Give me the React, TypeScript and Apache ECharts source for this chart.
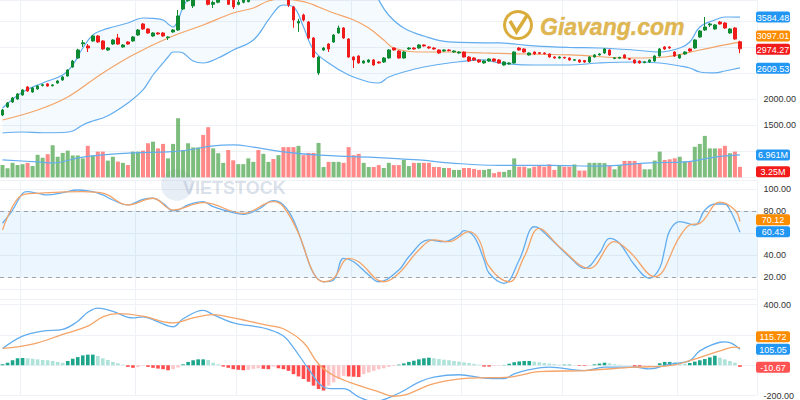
import React, { useEffect, useRef } from 'react';
import * as echarts from 'echarts';

const CATEGORY_COUNT = 151;
const categories = Array.from({ length: CATEGORY_COUNT }, (_, i) => `d${i}`);

// [open, close, low, high]
const candles: number[][] = [
  [1702,1798,1680,1820],[1856,1933,1840,1950],[1952,2029,1935,2045],[2010,2106,1995,2120],[2087,2183,2070,2200],
  [2240,2163,2150,2260],[2144,2221,2130,2240],[2202,2260,2190,2275],[2270,2285,2250,2300],[2300,2260,2245,2315],
  [2265,2280,2250,2295],[2317,2356,2300,2370],[2375,2433,2360,2450],[2452,2567,2440,2580],[2625,2740,2610,2760],
  [2798,2952,2780,2975],[3070,3090,3010,3144],[3029,2990,2913,3067],[3125,3221,3110,3240],[3221,3106,3090,3240],
  [3125,2971,2955,3140],[2952,2990,2933,3005],[3067,3144,3050,3160],[3183,3067,3050,3260],[3010,3048,2995,3065],
  [3106,3067,3055,3120],[3125,3202,3110,3220],[3240,3336,3225,3355],[3452,3356,3340,3470],[3356,3279,3265,3370],
  [3221,3279,3205,3295],[3279,3260,3245,3295],[3279,3221,3205,3295],[3190,3202,3144,3215],[3298,3336,3285,3350],
  [3336,3606,3320,3721],[3740,3960,3720,3990],
  [3900,3990,3880,4020],[3800,3960,3760,3990],[3960,4040,3940,4070],[4040,3980,3950,4060],[3980,3830,3810,4000],
  [3830,3865,3760,3900],[3870,3960,3850,3980],[3960,4030,3940,4060],[4030,3830,3820,4040],[3910,3780,3740,3930],
  [3830,3870,3810,3950],[3870,3940,3850,3970],[3880,3990,3870,4010],[3990,4040,3970,4070],[4040,3980,3950,4060],
  [3980,4050,3960,4080],[4050,4090,4020,4120],[4090,4010,3990,4110],[4010,4060,3990,4090],[4060,3960,3930,4080],
  [3960,3820,3780,3990],[3780,3529,3380,3800],[3470,3500,3300,3550],[3625,3529,3500,3650],[3490,3183,3160,3510],
  [3183,2817,2800,3200],[2510,2817,2470,2830],[2952,2990,2935,3010],[3067,2971,2913,3080],[3106,3240,3090,3255],
  [3279,3375,3265,3420],[3375,3183,3165,3390],[3163,2817,2800,3180],[2817,2760,2605,2830],[2836,2702,2690,2850],
  [2702,2740,2690,2755],[2721,2760,2705,2775],[2760,2663,2650,2775],[2721,2702,2690,2735],[2721,2798,2705,2815],
  [2798,2952,2785,2970],[2990,2952,2940,3005],[2933,2798,2785,2945],[2798,2913,2785,2930],[2971,2990,2955,3005],
  [2990,2971,2955,3005],[2990,3048,2975,3065],[3048,3029,3015,3060],[3010,2990,2975,3025],[2990,2971,2955,3005],
  [2952,2894,2880,2965],[2933,2952,2920,2965],[2952,2940,2925,2965],[2913,2933,2900,2945],[2894,2913,2880,2925],
  [2913,2817,2805,2925],[2817,2740,2720,2830],[2798,2760,2745,2810],[2760,2721,2705,2775],[2702,2740,2690,2755],
  [2740,2779,2725,2790],[2779,2740,2725,2790],[2760,2702,2690,2775],
  [2663,2721,2650,2735],[2683,2702,2670,2715],[2702,2913,2690,2925],[2990,2952,2940,3005],[2971,2913,2900,2985],
  [2856,2894,2845,2905],[2913,2875,2860,2925],[2900,2885,2870,2912],[2895,2880,2865,2905],[2875,2817,2805,2885],
  [2817,2798,2785,2830],[2798,2817,2785,2830],[2810,2798,2785,2820],[2798,2760,2745,2810],[2755,2765,2740,2778],
  [2760,2721,2705,2770],[2750,2721,2705,2760],[2721,2817,2705,2830],[2817,2856,2805,2870],[2856,2875,2845,2890],
  [2894,2971,2880,2990],[2952,2856,2840,2965],[2790,2800,2775,2815],[2795,2810,2780,2822],[2856,2798,2785,2870],
  [2785,2775,2760,2795],[2760,2702,2690,2770],[2740,2702,2690,2750],[2710,2725,2695,2738],[2721,2760,2705,2772],
  [2740,2836,2725,2850],[2836,2971,2825,2990],[3010,2971,2955,3025],[3010,2990,2975,3020],[2913,2836,2820,2925],
  [2798,2856,2785,2870],[2875,2913,2860,2925],[2971,2933,2920,2985],[2990,3144,2975,3160],[3202,3317,3185,3335],
  [3336,3394,3320,3586],[3433,3452,3394,3470],[3356,3433,3340,3450],[3490,3452,3440,3510],[3471,3375,3360,3485],
  [3279,3356,3265,3370],[3375,3163,3150,3390],[3110,2974.27,2890,3130],
];

// volume in millions
const volumes: number[] = [
  3.8,2.8,4.5,3.8,4.1,4.5,3.5,7.0,6.1,7.2, 10.0,6.4,7.6,8.3,6.8,6.8,5.9,9.8,6.8,8.0,
  8.0,5.2,6.4,4.9,4.5,3.8,8.0,8.0,8.3,10.6, 11.1,9.0,10.4,5.9,10.4,18.4,8.5,10.6,9.3,9.3,
  13.2,15.6,9.0,7.5,4.5,8.5,5.3,4.1,4.1,5.9,
  4.8,8.5,7.3,4.8,5.7,6.9,9.4,9.4,9.4,9.8, 6.9,7.6,7.6,10.7,3.2,4.8,4.8,4.8,4.5,9.4,
  6.9,7.3,4.5,3.2,3.2,3.8,2.9,4.5,3.8,3.8, 5.4,3.5,4.5,4.5,4.5,4.5,3.2,3.2,2.9,2.9,
  2.3,2.3,2.9,2.9,2.6,2.3,2.3,2.6,1.3,1.7,
  1.7,2.3,5.9,3.3,3.3,2.8,3.3,3.8,3.3,4.0, 2.3,3.8,3.3,3.3,4.0,2.1,2.1,4.5,4.5,4.5,
  4.4,3.5,2.5,3.8,5.1,5.1,5.1,4.4,2.5,2.5, 5.2,8.0,5.4,5.6,5.9,6.4,4.9,4.9,9.5,10.4,
  12.9,9.0,9.0,9.0,9.8,7.5,8.0,3.25,
];

const volumeMA: number[][] = [
  [0,5.4],[7,4.8],[10,4.5],[16,6.3],[26,7.6],[33,7.9],[37,8.5],[42,9.8],[46,10.1],[50,9.4],[56,7.9],
  [63,6.9],[73,6.3],[83,5.4],[89,4.5],[99,3.7],[109,3.7],[119,3.5],[129,4.5],[136,4.8],[142,6.3],[147,6.961],
];

// Bollinger bands (read at these candle positions)
const bbIndex = [0,4,8,12,14,16,18,20,22,25,28,30,32,33,34,35,36,38,40,43,46,50,53,55,56,58,60,62,65,69,73,75,77,80,84,89,96,99,106,113,119,126,131,135,137,139,142,144,147];
const bbUpper = [1837,2144,2317,2471,2663,2990,3240,3336,3394,3471,3567,3558,3529,3452,3394,3529,3779,4100,4450,4600,4620,4600,4550,4500,4480,4500,4600,4700,4720,4600,4300,3913,3620,3375,3220,3106,3090,3087,3030,3000,2990,2952,2913,2990,3106,3394,3529,3586,3584.48];
const bbLower = [1356,1375,1360,1365,1394,1510,1587,1644,1740,1933,2183,2471,2702,2817,2913,2913,2894,2740,2702,2798,2952,3144,3529,3779,3817,3779,3394,2952,2702,2471,2337,2317,2433,2529,2625,2702,2760,2702,2663,2663,2702,2721,2702,2644,2606,2529,2510,2548,2609.53];
const bbMiddle: number[][] = [
  [0,1606],[7,1798],[13,2048],[20,2510],[26,2856],[33,3183],[40,3433],[46,3663],[50,3760],[53,3894],[56,3940],
  [58,3913],[61,3856],[63,3779],[66,3663],[70,3529],[73,3375],[76,3144],[78,2990],[83,2913],[89,2913],[96,2894],
  [99,2885],[113,2856],[126,2798],[132,2817],[139,2952],[146,3087],[147,3097.01],
];

const stochK: number[][] = [
  [0,68.7],[2,80.7],[4,95.9],[5,97.4],[7,95.9],[9,94.4],[12,96.5],[15,98.9],[18,97.4],[20,94.4],[22,89.8],[25,85.3],
  [28,90.4],[30,91.4],[32,86.8],[34,80.1],[35,80.7],[37,85.3],[40,88.3],[42,83.7],[46,78.3],[48,76.8],[51,81.4],
  [54,89.2],[56,85.3],[58,71.6],[60,47.4],[62,23.2],[64,15.5],[66,17.1],[68,36.8],[70,33.7],[73,21.6],[75,15.5],
  [79,26.2],[81,38.3],[85,53.5],[88,51.9],[91,58],[92,61.9],[94,56.5],[96,35.3],[97,23.2],[100,14.1],[103,35.3],
  [106,65.5],[107,64.1],[113,38.3],[116,27.7],[119,41.4],[121,55],[123,50.5],[126,30.7],[129,18.6],[131,28],
  [132,45],[133,62],[135,70.1],[138,67.1],[140,80.7],[142,86.2],[144,86.2],[145,80.7],[146,71.6],[147,60.43],
];
const stochD: number[][] = [
  [0,62.5],[4,94.4],[7,95.9],[16,97.4],[20,96],[25,85.3],[30,91.4],[34,80.7],[40,87.4],[48,77.7],[54,88.3],
  [56,83.7],[59,59.5],[62,23.2],[64,15.5],[66,18.6],[69,36.8],[71,33.7],[76,15.5],[79,23.2],[83,44.4],[86,53.5],
  [89,51.9],[93,61],[95,53.5],[97,29.2],[101,15.5],[104,38.3],[107,64.1],[111,47.4],[117,27.7],[122,51.9],
  [125,42.8],[130,20.1],[135,56.5],[137,67.1],[139,68.6],[143,87.9],[146,80.7],[147,70.12],
];

const macdLine: number[][] = [
  [0,111],[4,193],[8,226],[12,237],[15,291],[17,350],[19,378],[22,356],[26,313],[28,320],[31,287],[34,254],
  [36,307],[40,363],[42,335],[46,280],[50,258],[53,237],[56,193],[58,117],[61,-24],[64,-144],[66,-155],[68,-155],
  [71,-209],[74,-240],[79,-185],[83,-111],[86,-78],[91,-63],[96,-85],[100,-89],[102,-57],[105,-29],[109,-13],
  [116,-35],[120,-13],[126,-13],[129,-24],[133,8],[137,30],[139,95],[143,152],[144,155],[145,150],[146,132],[147,105.05],
];
const signalLine: number[][] = [
  [0,111],[6,139],[12,204],[17,258],[20,320],[23,341],[28,324],[34,280],[38,313],[42,335],[46,313],[53,263],
  [56,241],[60,150],[63,8],[66,-68],[71,-133],[75,-176],[78,-205],[80,-198],[86,-122],[93,-85],[101,-78],
  [107,-42],[116,-35],[126,-13],[133,-3],[138,41],[143,95],[146,120],[147,115.72],
];
const macdHist: number[] = [
  6.5,17,33,46,48,46,43,39,35,33, 28,22,17,28,43,54,65,70,70,61, 46,35,22,13,4,-11,-17,-12,-3,-11,
  -17,-22,-26,-33,-26,-15,6,22,33,39, 39,35,17,6,-9,-17,-26,-30,-33,-30, -24,-20,-24,-26,-9,-20,-26,-37,-59,-74,
  -91,-109,-135,-157,-167,-135,-113,-91,-70,-74, -76,-78,-59,-48,-37,-26,-20,-11,-4,4,
  12,22,30,39,46,50,46,41,37,33, 28,24,19,15,9,4,-9,-9,-4,-3, 2,10,20,25,28,28,24,20,15,11,
  7,4,4,4,2,-4,-4,-2,6,11, 17,13,7,4,2,1,-9,-9,-4,-3, -1,13,22,22,20,13,11,15,24,33,
  41,52,63,50,39,28,17,-10.67,
];

const verticalGridIdx = [4, 27, 47, 70, 92, 112, 135];

// tick labels that stay readable (the others sit under the value badges)
const priceLabels = [1500, 2000];
const stochLabels = [20, 40, 80, 100];
const macdLabels = [-200, 400];

const badges = [
  { text: '3584.48', axis: 0, value: 3584.48, color: '#2196f3', shift: 0 },
  { text: '3097.01', axis: 0, value: 3097.01, color: '#fb8c00', shift: -6.5 },
  { text: '2974.27', axis: 0, value: 2974.27, color: '#f21b1b', shift: 0.5 },
  { text: '2609.53', axis: 0, value: 2609.53, color: '#2196f3', shift: 0.5 },
  { text: '6.961M', axis: 1, value: 6.961, color: '#2196f3', shift: 0 },
  { text: '3.25M', axis: 1, value: 3.25, color: '#f21b1b', shift: 5 },
  { text: '70.12', axis: 2, value: 70.12, color: '#fb8c00', shift: -2 },
  { text: '60.43', axis: 2, value: 60.43, color: '#2196f3', shift: -0.5 },
  { text: '115.72', axis: 3, value: 115.72, color: '#fb8c00', shift: -11 },
  { text: '105.05', axis: 3, value: 105.05, color: '#2196f3', shift: 0 },
  { text: '-10.67', axis: 3, value: -10.67, color: '#ff5252', shift: 0.5 },
];

const UP = '#0e8a33';
const DOWN = '#f01c1c';
const VOL_UP = 'rgba(88,170,88,0.78)';
const VOL_DOWN = 'rgba(255,96,96,0.75)';
const BLUE = '#63adef';
const ORANGE = '#f4a468';
const GOLD = '#d9ac3c';
const FONT = '"Liberation Sans", Arial, sans-serif';

export default function App() {
  const ref = useRef<HTMLDivElement>(null);

  useEffect(() => {
    document.body.style.margin = '0';
    const chart = echarts.init(ref.current!, null, { renderer: 'svg' });

    const vSplit = {
      show: true,
      interval: (idx: number) => verticalGridIdx.includes(idx),
      lineStyle: { color: '#eef1f6', width: 1 },
    };
    const hSplit = { show: true, lineStyle: { color: '#eef1f6', width: 1 } };
    const axisLabel = (shown: number[], extra: any = {}) => ({
      color: '#333',
      fontSize: 9,
      fontFamily: FONT,
      margin: 6,
      formatter: (v: number) => (shown.includes(v) ? v.toFixed(2) : ''),
      ...extra,
    });
    const xAxis = (gridIndex: number, split: boolean) => ({
      type: 'category',
      gridIndex,
      data: categories,
      boundaryGap: true,
      axisLine: { show: false },
      axisTick: { show: false },
      axisLabel: { show: false },
      splitLine: split ? vSplit : { show: false },
    });

    const volumeData = volumes.map((v, i) => ({
      value: v,
      itemStyle: { color: candles[i][1] >= candles[i][0] ? VOL_UP : VOL_DOWN },
    }));
    const histData = macdHist.map((v, i) => {
      const prev = i > 0 ? macdHist[i - 1] : v;
      let color;
      if (v >= 0) color = v >= prev ? '#1ea68c' : '#aee3d9';
      else color = v <= prev ? '#ff4d4d' : '#fcc6c9';
      return { value: v, itemStyle: { color } };
    });

    const lineBase = (name: string, data: number[][], color: string, x: number, y: number, width = 1.2) => ({
      name,
      type: 'line',
      xAxisIndex: x,
      yAxisIndex: y,
      data,
      smooth: 0.4,
      symbol: 'none',
      silent: true,
      lineStyle: { color, width },
      z: 3,
    });

    const option: any = {
      animation: false,
      backgroundColor: '#ffffff',
      grid: [
        { left: -2, right: 42.5, top: 0, height: 177.5 },
        { left: -2, right: 42.5, top: 100, height: 77.3 },
        { left: -2, right: 42.5, top: 180, height: 118.8 },
        { left: -2, right: 42.5, top: 289.6, height: 107.3 },
      ],
      xAxis: [xAxis(0, true), xAxis(1, false), xAxis(2, true), xAxis(3, true)],
      yAxis: [
        {
          type: 'value', gridIndex: 0, position: 'right', min: 500, max: 3913, interval: 500,
          axisLine: { show: false }, axisTick: { show: false },
          axisLabel: axisLabel(priceLabels, { showMaxLabel: false }), splitLine: hSplit,
        },
        { type: 'value', gridIndex: 1, min: 0, max: 24.08, show: false, splitLine: { show: false } },
        {
          type: 'value', gridIndex: 2, position: 'right', min: 0, max: 108, interval: 20,
          axisLine: { show: false }, axisTick: { show: false },
          axisLabel: axisLabel(stochLabels, { showMinLabel: false, showMaxLabel: false }), splitLine: hSplit,
        },
        {
          type: 'value', gridIndex: 3, position: 'right', min: -200, max: 500, interval: 200,
          axisLine: { show: false }, axisTick: { show: false },
          axisLabel: axisLabel(macdLabels, { showMaxLabel: false }), splitLine: hSplit,
        },
      ],
      series: [
        {
          name: 'bbBase', type: 'line', xAxisIndex: 0, yAxisIndex: 0, stack: 'bb', smooth: 0.4, symbol: 'none',
          silent: true, lineStyle: { opacity: 0 },
          data: bbIndex.map((x, k) => [x, bbLower[k]]),
        },
        {
          name: 'bbFill', type: 'line', xAxisIndex: 0, yAxisIndex: 0, stack: 'bb', smooth: 0.4, symbol: 'none',
          silent: true, lineStyle: { opacity: 0 }, areaStyle: { color: 'rgba(33,150,243,0.075)' },
          data: bbIndex.map((x, k) => [x, bbUpper[k] - bbLower[k]]),
        },
        lineBase('bbUpper', bbIndex.map((x, k) => [x, bbUpper[k]]), BLUE, 0, 0),
        lineBase('bbLower', bbIndex.map((x, k) => [x, bbLower[k]]), BLUE, 0, 0),
        lineBase('bbMiddle', bbMiddle, ORANGE, 0, 0),
        {
          name: 'price', type: 'candlestick', xAxisIndex: 0, yAxisIndex: 0, data: candles, barWidth: 3,
          silent: true, z: 4,
          itemStyle: { color: UP, color0: DOWN, borderColor: UP, borderColor0: DOWN, borderWidth: 1 },
        },
        {
          name: 'volume', type: 'bar', xAxisIndex: 1, yAxisIndex: 1, data: volumeData, barWidth: 4,
          silent: true, z: 2,
        },
        lineBase('volumeMA', volumeMA, BLUE, 1, 1),
        {
          ...lineBase('stochK', stochK, BLUE, 2, 2, 1.3),
          markArea: {
            silent: true,
            itemStyle: { color: 'rgba(33,150,243,0.09)' },
            data: [[{ yAxis: 20 }, { yAxis: 80 }]],
          },
          markLine: {
            silent: true,
            symbol: ['none', 'none'],
            label: { show: false },
            lineStyle: { color: '#9ea3ab', type: [4, 4], width: 1 },
            data: [{ yAxis: 80 }, { yAxis: 20 }],
          },
        },
        lineBase('stochD', stochD, ORANGE, 2, 2, 1.3),
        {
          name: 'hist', type: 'bar', xAxisIndex: 3, yAxisIndex: 3, data: histData, barWidth: 3.6,
          silent: true, z: 2,
        },
        { ...lineBase('macd', macdLine, BLUE, 3, 3, 1.3), clip: false },
        { ...lineBase('signal', signalLine, ORANGE, 3, 3, 1.3), clip: false },
      ],
    };

    chart.setOption(option);

    const badgeGraphics = badges.map((b) => {
      const y = (chart.convertToPixel({ yAxisIndex: b.axis } as any, b.value) as number) + b.shift;
      return {
        type: 'group',
        x: 756,
        y: y - 5.5,
        z: 100,
        children: [
          { type: 'rect', shape: { x: 0, y: 0, width: 34, height: 11, r: 2 }, style: { fill: b.color }, z: 100 },
          {
            type: 'text', z: 101,
            style: {
              text: b.text, x: 17, y: 6, align: 'center', verticalAlign: 'middle',
              fill: '#ffffff', font: `9px ${FONT}`,
            },
          },
        ],
      };
    });

    const staticGraphics = [
      {
        type: 'circle', z: 1, silent: true,
        shape: { cx: 177, cy: 185, r: 16 },
        style: { fill: 'rgba(110,150,200,0.16)' },
      },
      {
        type: 'text', z: 1, silent: true,
        style: {
          text: 'VIETSTOCK', x: 183, y: 188, verticalAlign: 'middle',
          fill: 'rgba(140,160,190,0.32)', font: `bold 18px ${FONT}`,
        },
      },
      {
        type: 'ring', z: 10, silent: true,
        shape: { cx: 518, cy: 25, r: 15, r0: 12 },
        style: { fill: GOLD },
      },
      {
        type: 'polyline', z: 10, silent: true,
        shape: { points: [[510, 21], [516.5, 32], [528, 14]] },
        style: { stroke: GOLD, lineWidth: 3.5, fill: null },
      },
      {
        type: 'text', z: 10, silent: true,
        style: {
          text: 'Giavang.com', x: 540, y: 27, verticalAlign: 'middle',
          fill: '#dfb650', stroke: 'rgba(190,140,30,0.5)', lineWidth: 0.6,
          font: `italic bold 23px ${FONT}`,
        },
      },
    ];

    chart.setOption({ graphic: [...staticGraphics, ...badgeGraphics] });

    return () => chart.dispose();
  }, []);

  return <div ref={ref} style={{ position: 'absolute', left: 0, top: 0, width: 800, height: 400 }} />;
}
